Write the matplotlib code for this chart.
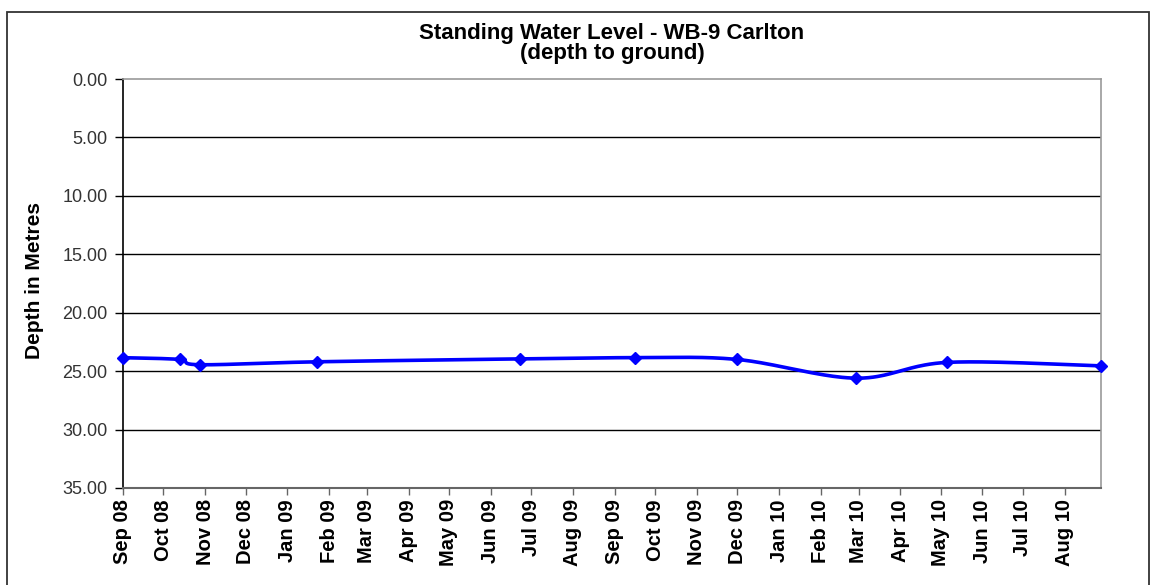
import numpy as np
import pandas as pd
import matplotlib
matplotlib.use("Agg")
import matplotlib.pyplot as plt
import matplotlib.dates as mdates
from matplotlib.patches import Rectangle

# ---- data ----
dates = ["2008-09-01", "2008-10-13", "2008-10-28", "2009-01-23", "2009-06-23",
         "2009-09-16", "2009-12-01", "2010-02-27", "2010-05-06", "2010-08-28"]
depth = [23.85, 24.0, 24.45, 24.2, 23.95, 23.85, 24.0, 25.6, 24.25, 24.55]
title_line1 = "Standing Water Level - WB-9 Carlton"
title_line2 = "(depth to ground)"
ylabel_text = "Depth in Metres"
y_ticks = [0, 5, 10, 15, 20, 25, 30, 35]

W, H = 1151, 585
fig = plt.figure(figsize=(W / 100, H / 100), dpi=100)
plt.rcParams['font.family'] = ['Liberation Sans', 'DejaVu Sans']

L, R, T, B = 123, 1101, 79, 488
ax = fig.add_axes([L / W, 1 - B / H, (R - L) / W, (B - T) / H])

x = mdates.date2num(pd.to_datetime(dates))
y = np.array(depth, dtype=float)

ax.set_xlim(x[0], x[-1])
ax.set_ylim(35, 0)

ax.set_yticks(y_ticks)
ax.set_yticklabels([f"{v:.2f}" for v in y_ticks], fontsize=13, color="#333333")
for v in y_ticks[1:-1]:
    ax.axhline(v, color="black", lw=1.0, zorder=1)

ax.xaxis.set_major_locator(mdates.MonthLocator())
ax.xaxis.set_major_formatter(mdates.DateFormatter("%b %y"))
plt.setp(ax.get_xticklabels(), rotation=90, fontsize=14.5, fontweight="bold", color="black")
ax.tick_params(axis="x", direction="out", length=5, width=1, color="#666666", pad=3)
ax.tick_params(axis="y", direction="out", length=6, width=1, color="black", pad=5)

for s in ["top", "right"]:
    ax.spines[s].set_color("#999999")
    ax.spines[s].set_linewidth(1.2)
ax.spines["left"].set_color("black")
ax.spines["left"].set_linewidth(1.2)
ax.spines["bottom"].set_color("#666666")
ax.spines["bottom"].set_linewidth(1.5)

# smoothed line (Catmull-Rom Bezier in display space, like Excel smoothing)
fig.canvas.draw()
P = ax.transData.transform(np.column_stack([x, y]))
n = len(P)
pts = []
for i in range(n - 1):
    p0 = P[i - 1] if i > 0 else P[i]
    p1 = P[i]
    p2 = P[i + 1]
    p3 = P[i + 2] if i + 2 < n else P[i + 1]
    c1 = p1 + (p2 - p0) / 6.0
    c2 = p2 - (p3 - p1) / 6.0
    t = np.linspace(0, 1, 40)[:, None]
    seg = ((1 - t) ** 3) * p1 + 3 * ((1 - t) ** 2) * t * c1 + 3 * (1 - t) * t ** 2 * c2 + t ** 3 * p2
    pts.append(seg if i == 0 else seg[1:])
curve = np.vstack(pts)
curve_d = ax.transData.inverted().transform(curve)
ax.plot(curve_d[:, 0], curve_d[:, 1], color="#0000FF", lw=2.6, zorder=3, clip_on=False,
        solid_capstyle="round")
ax.plot(x, y, linestyle="none", marker="D", ms=6.5, color="#0000FF", zorder=4, clip_on=False)

ax.set_ylabel(ylabel_text, fontsize=15, fontweight="bold")
ax.yaxis.set_label_coords((44 - L) / (R - L), 1 - (280 - T) / (B - T))

fig.text((L + R) / 2 / W, 1 - 33 / H, title_line1, ha="center", va="center",
         fontsize=16, fontweight="bold")
fig.text((L + R) / 2 / W, 1 - 53 / H, title_line2, ha="center", va="center",
         fontsize=16, fontweight="bold")

# chart-area border
fig.patches.append(Rectangle((7 / W, -0.05), (1149 - 7) / W, 1 - 12 / H + 0.05,
                             transform=fig.transFigure, fill=False, edgecolor="#333333", lw=1.3))

fig.savefig("out.png", dpi=100)
